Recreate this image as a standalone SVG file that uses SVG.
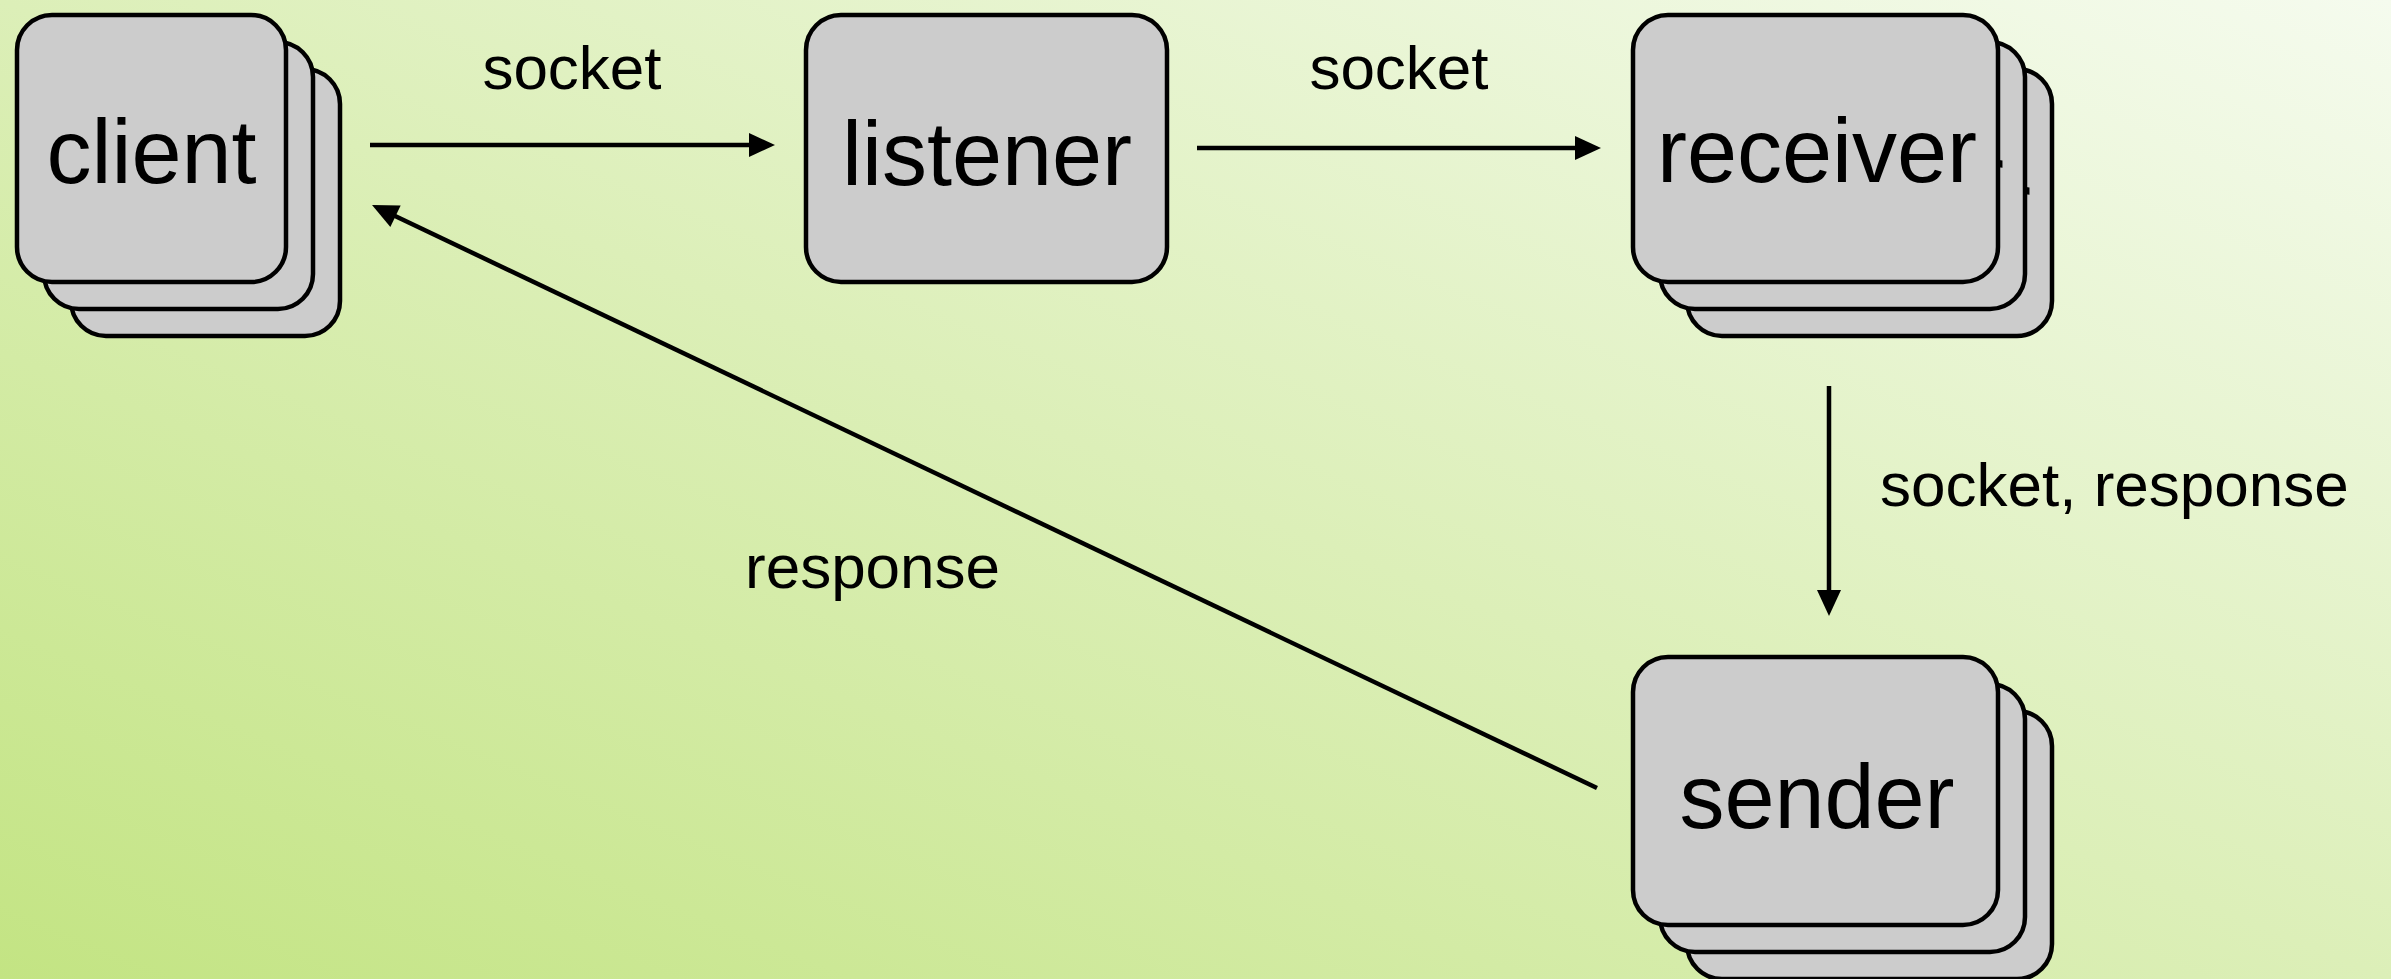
<svg xmlns="http://www.w3.org/2000/svg" width="2391" height="979" viewBox="0 0 2391 979">
<defs>
<linearGradient id="bg" x1="0" y1="1" x2="1" y2="0">
<stop offset="0" stop-color="#c3e483"/>
<stop offset="0.5" stop-color="#dcefb8"/>
<stop offset="1" stop-color="#f5fbee"/>
</linearGradient>
<marker id="ah" markerUnits="userSpaceOnUse" markerWidth="26" markerHeight="24" refX="4" refY="12" orient="auto" overflow="visible">
<path d="M0,0 L26,12 L0,24 Z" fill="#000"/>
</marker>
<style>
.box{fill:#cccccc;stroke:#000;stroke-width:4.5}
.nt{font-family:"Liberation Sans",Arial,sans-serif;font-size:90px;fill:#000;text-anchor:middle}
.lb{font-family:"Liberation Sans",Arial,sans-serif;font-size:62px;fill:#000}
.cn{stroke:#000;stroke-width:4.5;fill:none;marker-end:url(#ah)}
</style>
</defs>
<rect x="0" y="0" width="2391" height="979" fill="url(#bg)"/>

<g id="client">
<rect class="box" x="71" y="69" width="269" height="267" rx="35"/>
<rect class="box" x="44" y="42" width="269" height="267" rx="35"/>
<rect class="box" x="17" y="15" width="269" height="267" rx="35"/>
<text class="nt" x="151.5" y="183">client</text>
</g>

<g id="listener">
<rect class="box" x="806" y="15" width="361" height="267" rx="35"/>
<text class="nt" x="987" y="185">listener</text>
</g>

<g id="receiver">
<rect class="box" x="1687" y="69" width="365" height="267" rx="35"/>
<text class="nt" x="1871" y="236">receiver</text>
<rect class="box" x="1660" y="42" width="365" height="267" rx="35"/>
<text class="nt" x="1844" y="209">receiver</text>
<rect class="box" x="1633" y="15" width="365" height="267" rx="35"/>
<text class="nt" x="1817" y="182">receiver</text>
</g>

<g id="sender">
<rect class="box" x="1687" y="711" width="365" height="268" rx="35"/>
<rect class="box" x="1660" y="684" width="365" height="268" rx="35"/>
<rect class="box" x="1633" y="657" width="365" height="268" rx="35"/>
<text class="nt" x="1817" y="828">sender</text>
</g>

<g id="connectors">
<line class="cn" x1="370" y1="145" x2="753" y2="145"/>
<line class="cn" x1="1197" y1="148" x2="1579" y2="148"/>
<line class="cn" x1="1829" y1="386" x2="1829" y2="594"/>
<line class="cn" x1="1597" y1="788" x2="391.9" y2="214.5"/>
<text class="lb" x="572" y="89" text-anchor="middle">socket</text>
<text class="lb" x="1399" y="89" text-anchor="middle">socket</text>
<text class="lb" x="1880" y="506">socket, response</text>
<text class="lb" x="745" y="588">response</text>
</g>
</svg>
